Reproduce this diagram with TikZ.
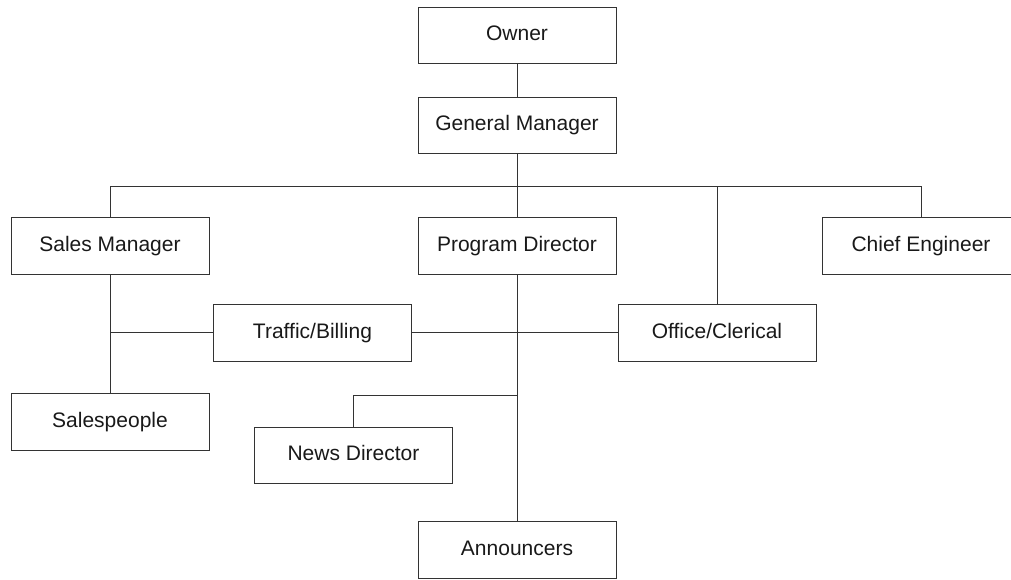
\documentclass[tikz,border=0pt]{standalone}
\usepackage{fontspec}
\setmainfont{Liberation Sans}
\begin{document}
\begin{tikzpicture}[x=1pt,y=-1pt,
  box/.style={draw=black!80, line width=1pt, minimum width=198pt, minimum height=57pt, inner sep=0pt,
    text height=15pt, text depth=4pt,
    font=\fontsize{21}{25}\selectfont, text=black!90},
  link/.style={draw=black!80, line width=1pt}]
\useasboundingbox (0,0) rectangle (1011,579);
\node[box, minimum height=56pt] (owner) at (517,35) {Owner};
\node[box, minimum height=56pt] (gm) at (517,125) {General Manager};
\node[box] (sm) at (110,245.5) {Sales Manager};
\node[box] (pd) at (517,245.5) {Program Director};
\node[box] (ce) at (921,245.5) {Chief Engineer};
\node[box] (tb) at (312.5,332.5) {Traffic/Billing};
\node[box] (oc) at (717,332.5) {Office/Clerical};
\node[box] (sp) at (110,421.5) {Salespeople};
\node[box, minimum height=56pt] (nd) at (353.5,455) {News Director};
\node[box] (an) at (517,549.5) {Announcers};
\coordinate (bus) at (517,186.5);
\coordinate (smj) at (110,332.5);
\coordinate (ndj) at (517,395.5);
\draw[link] (owner.south) -- (gm.north);
\draw[link] (gm.south) -- (bus);
\draw[link] (sm.north) |- (bus) -| (ce.north);
\draw[link] (bus) -- (pd.north);
\draw[link] (bus -| oc.north) -- (oc.north);
\draw[link] (sm.south) -- (sp.north);
\draw[link] (smj) -- (tb.west);
\draw[link] (tb.east) -- (oc.west);
\draw[link] (pd.south) -- (an.north);
\draw[link] (ndj) -| (nd.north);
\end{tikzpicture}
\end{document}
